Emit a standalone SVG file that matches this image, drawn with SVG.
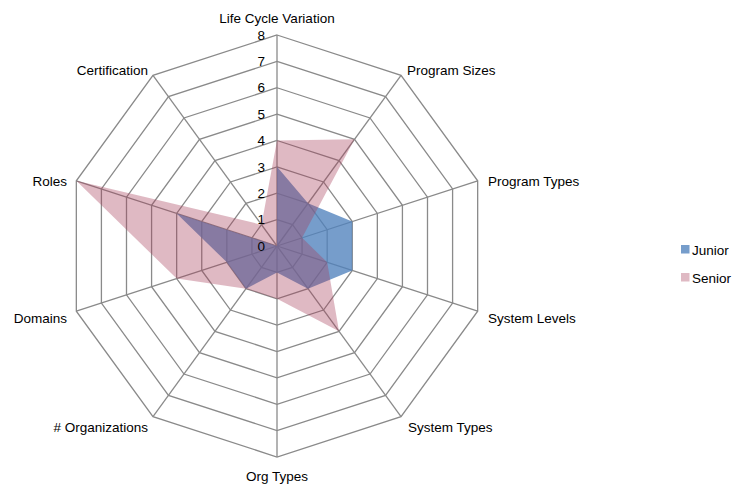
<svg xmlns="http://www.w3.org/2000/svg" width="732" height="486" viewBox="0 0 732 486">
<style>
  .grid { fill: none; stroke: #8a8a8a; stroke-width: 1.3; }
  .spoke { stroke: #8a8a8a; stroke-width: 1.3; }
  .lbl { font-family: "Liberation Sans", Arial, sans-serif; font-size: 13.5px; fill: #000; }
  .tick { font-family: "Liberation Sans", Arial, sans-serif; font-size: 13.5px; fill: #000; text-anchor: end; }
  .junior { fill: #4F81BD; fill-opacity: 0.78; }
  .senior { fill: rgb(165,62,88); fill-opacity: 0.36; }
</style>
<rect width="732" height="486" fill="#ffffff"/>
<g id="grid" transform="translate(277 246)">
  <polygon class="grid" points="0,-26.38 15.5,-21.34 25.08,-8.15 25.08,8.15 15.5,21.34 0,26.38 -15.5,21.34 -25.08,8.15 -25.08,-8.15 -15.5,-21.34"/>
  <polygon class="grid" points="0,-52.75 31.01,-42.68 50.17,-16.3 50.17,16.3 31.01,42.68 0,52.75 -31.01,42.68 -50.17,16.3 -50.17,-16.3 -31.01,-42.68"/>
  <polygon class="grid" points="0,-79.13 46.51,-64.01 75.25,-24.45 75.25,24.45 46.51,64.01 0,79.13 -46.51,64.01 -75.25,24.45 -75.25,-24.45 -46.51,-64.01"/>
  <polygon class="grid" points="0,-105.5 62.01,-85.35 100.34,-32.6 100.34,32.6 62.01,85.35 0,105.5 -62.01,85.35 -100.34,32.6 -100.34,-32.6 -62.01,-85.35"/>
  <polygon class="grid" points="0,-131.88 77.51,-106.69 125.42,-40.75 125.42,40.75 77.51,106.69 0,131.88 -77.51,106.69 -125.42,40.75 -125.42,-40.75 -77.51,-106.69"/>
  <polygon class="grid" points="0,-158.25 93.02,-128.03 150.5,-48.9 150.5,48.9 93.02,128.03 0,158.25 -93.02,128.03 -150.5,48.9 -150.5,-48.9 -93.02,-128.03"/>
  <polygon class="grid" points="0,-184.63 108.52,-149.37 175.59,-57.05 175.59,57.05 108.52,149.37 0,184.63 -108.52,149.37 -175.59,57.05 -175.59,-57.05 -108.52,-149.37"/>
  <polygon class="grid" points="0,-211 124.02,-170.7 200.67,-65.2 200.67,65.2 124.02,170.7 0,211 -124.02,170.7 -200.67,65.2 -200.67,-65.2 -124.02,-170.7"/>
  <line class="spoke" x1="0" y1="0" x2="0" y2="-211"/>
  <line class="spoke" x1="0" y1="0" x2="124.02" y2="-170.7"/>
  <line class="spoke" x1="0" y1="0" x2="200.67" y2="-65.2"/>
  <line class="spoke" x1="0" y1="0" x2="200.67" y2="65.2"/>
  <line class="spoke" x1="0" y1="0" x2="124.02" y2="170.7"/>
  <line class="spoke" x1="0" y1="0" x2="0" y2="211"/>
  <line class="spoke" x1="0" y1="0" x2="-124.02" y2="170.7"/>
  <line class="spoke" x1="0" y1="0" x2="-200.67" y2="65.2"/>
  <line class="spoke" x1="0" y1="0" x2="-200.67" y2="-65.2"/>
  <line class="spoke" x1="0" y1="0" x2="-124.02" y2="-170.7"/>
</g>
<g id="series-junior" transform="translate(277 246)">
  <polygon class="junior" points="0,-79.13 31.01,-42.68 75.25,-24.45 75.25,24.45 31.01,42.68 0,26.38 -31.01,42.68 -50.17,16.3 -100.34,-32.6 0,0"/>
</g>
<g id="series-senior" transform="translate(277 246)">
  <polygon class="senior" points="0,-105.5 77.51,-106.69 25.08,-8.15 50.17,16.3 62.01,85.35 0,52.75 -31.01,42.68 -100.34,32.6 -200.67,-65.2 -15.5,-21.34"/>
</g>
<g id="ticks">
  <text class="tick" x="265" y="250.6">0</text>
  <text class="tick" x="265" y="224.2">1</text>
  <text class="tick" x="265" y="197.9">2</text>
  <text class="tick" x="265" y="171.5">3</text>
  <text class="tick" x="265" y="145.1">4</text>
  <text class="tick" x="265" y="118.7">5</text>
  <text class="tick" x="265" y="92.4">6</text>
  <text class="tick" x="265" y="66">7</text>
  <text class="tick" x="265" y="39.6">8</text>
</g>
<g id="axis-labels">
  <text class="lbl" x="277" y="23" text-anchor="middle">Life Cycle Variation</text>
  <text class="lbl" x="407" y="75">Program Sizes</text>
  <text class="lbl" x="488" y="186">Program Types</text>
  <text class="lbl" x="488" y="323">System Levels</text>
  <text class="lbl" x="408" y="432">System Types</text>
  <text class="lbl" x="277" y="481" text-anchor="middle">Org Types</text>
  <text class="lbl" x="148" y="432" text-anchor="end">#&#160;Organizations</text>
  <text class="lbl" x="67" y="323" text-anchor="end">Domains</text>
  <text class="lbl" x="67" y="186" text-anchor="end">Roles</text>
  <text class="lbl" x="148" y="75" text-anchor="end">Certification</text>
</g>
<g id="legend">
  <rect x="681" y="245" width="8.5" height="8.5" class="junior"/>
  <text class="lbl" x="692" y="255">Junior</text>
  <rect x="681" y="273" width="8.5" height="8.5" class="senior"/>
  <text class="lbl" x="692" y="283">Senior</text>
</g>
</svg>
